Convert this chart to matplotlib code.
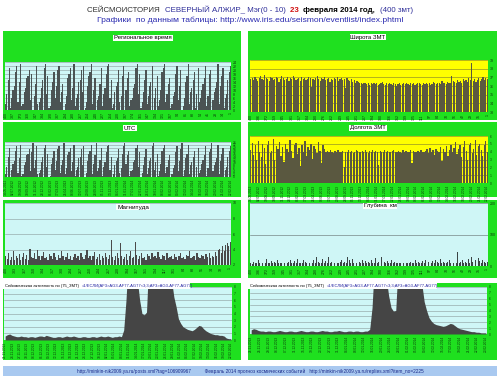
import matplotlib
matplotlib.use('Agg')
import matplotlib.pyplot as plt
import numpy as np
from matplotlib.patches import Rectangle

plt.rcParams['font.family'] = ['Liberation Sans', 'DejaVu Sans']

# ---------------- data ----------------
reg_hours = [3,8,15,21, 1,6,10,12,19,22, 4,14,23, 2,3,9,11,16,17,20, 5,18, 0,7,13,22,
             3,4,6,11,15,21,23, 8,17, 1,2,10,14,19, 6,12,20,22, 4,9,13, 0,3,7,16,18,21,
             5,11,23, 2,6,8,14,15,20, 9,22, 1,4,12,17,19,23, 3,10,16, 0,5,7,13,21,
             2,8,11,18,22,23, 6,15, 1,3,9,12,14,20, 4,7,17,22, 0,10,16,19,
             2,5,6,11,13,21,23, 8,18, 1,4,9,15,20, 3,7,12,14,22, 0,6,11,17,
             2,5,10,19,21,23, 4,8,13,16, 1,3,7,9,18,22, 5,12,20, 0,2,6,14,17,23,
             3,9,11,15,19, 1,8,21, 4,6,10,13,16,22, 2,7,18,20, 0,5,9,11,14,23,
             3,12,17,21, 1,6,8,15,19,22]

utc_hours = [2,7,14,20, 0,5,9,11,18,21, 3,13,22, 1,2,8,10,15,16,19, 4,17, 23,6,12,21,
             2,3,5,10,14,20,22, 7,16, 0,1,9,13,18, 5,11,19,21, 3,8,12, 23,2,6,15,17,20,
             4,10,22, 1,5,7,13,14,19, 8,21, 0,3,11,16,18,22, 2,9,15, 23,4,6,12,20,
             1,7,10,17,21,22, 5,14, 0,2,8,11,13,19, 3,6,16,21, 23,9,15,18,
             1,4,5,10,12,20,22, 7,17, 0,3,8,14,19, 2,6,11,13,21, 23,5,10,16,
             1,4,9,18,20,22, 3,7,12,15, 0,2,6,8,17,21, 4,11,19, 23,1,5,13,16,22,
             2,8,10,14,18, 0,7,20, 3,5,9,12,15,21, 1,6,17,19, 23,4,8,10,13,22,
             2,11,16,20, 0,5,7,14,18,21]

magnitude = [3.2,2.8,3.5,2.6,3.0,3.8,2.7,3.1,2.9,3.4,2.6,3.0,3.6,2.8,3.3,2.7,4.1,3.0,2.9,3.5,
             2.8,3.9,3.2,2.6,3.1,3.7,2.9,3.0,2.7,3.4,3.1,2.8,3.6,3.0,2.6,3.3,2.9,3.8,3.1,2.7,
             3.0,3.5,2.8,3.2,2.6,3.0,3.4,2.9,3.1,2.7,3.6,3.0,2.8,3.3,3.9,2.9,3.1,2.6,3.2,3.7,
             2.8,3.0,3.4,2.7,3.1,2.9,3.5,3.0,2.8,3.3,5.2,3.0,2.7,3.1,3.6,2.9,4.8,3.2,2.8,3.0,
             3.4,2.7,3.1,3.8,2.9,3.0,5.0,3.3,2.8,3.1,3.5,2.9,3.0,2.7,3.4,3.1,2.8,3.6,3.0,3.2,
             2.9,3.7,3.0,2.8,3.3,3.1,2.7,3.5,2.9,3.0,3.2,2.8,3.4,3.0,2.6,3.1,3.6,2.9,3.0,2.8,
             3.3,3.1,3.8,2.9,3.0,3.2,2.7,3.5,3.0,2.9,3.3,3.1,2.8,3.4,3.0,3.6,2.9,3.1,3.0,3.7,
             3.2,3.9,4.1,3.6,4.4,3.8,4.6,4.9,4.5,5.0]

latitude = [36.8,36.9,36.7,37.0,36.8,36.6,36.9,37.1,36.8,36.7,37.3,36.9,36.8,36.6,37.0,36.9,
            36.7,36.8,37.0,36.9,36.5,36.8,37.1,36.9,36.7,36.8,37.0,36.6,36.9,36.8,37.2,36.9,
            36.7,36.8,36.9,36.6,37.0,36.8,36.9,36.7,36.8,37.0,36.9,35.9,36.8,36.7,36.9,37.1,
            36.8,36.6,36.9,36.8,37.0,36.7,36.8,36.9,36.5,36.8,36.7,36.9,36.8,37.0,36.6,36.8,
            36.9,36.7,36.8,35.8,36.9,36.7,36.6,36.8,36.5,36.7,36.4,36.6,36.5,36.3,36.4,36.2,
            36.3,36.4,36.2,36.3,36.1,36.3,36.2,36.4,36.2,36.3,36.1,36.2,36.3,36.5,36.2,36.1,
            36.3,36.2,36.4,36.2,36.1,36.3,36.2,36.0,36.2,36.3,36.1,36.2,36.3,36.2,36.4,36.2,
            36.1,36.3,36.2,36.3,36.1,36.2,36.4,36.3,36.2,36.1,36.3,36.2,36.4,36.2,36.3,36.1,
            36.2,36.5,36.3,36.2,36.4,36.3,36.2,36.6,36.3,36.4,36.2,36.5,36.3,36.4,37.2,36.6,
            36.5,36.3,36.7,36.5,36.6,36.4,36.8,36.6,36.7,36.5,36.9,36.7,38.6,36.6,36.8,36.5,
            36.7,36.9,36.6,36.8,37.0,36.7,36.9,36.8]

longitude = [4.2,5.1,3.6,4.8,2.9,5.4,4.0,3.3,5.0,4.5,2.4,4.9,5.3,3.8,4.1,5.6,3.0,4.7,4.3,5.2,
             3.5,4.6,2.7,5.0,4.4,3.9,5.5,4.1,3.2,4.8,5.1,3.7,4.5,2.2,4.9,4.0,5.3,3.4,4.6,4.2,
             5.0,3.1,4.7,4.4,3.8,5.2,4.1,2.6,4.8,4.3,4.0,4.1,3.9,4.2,4.0,3.8,4.1,4.0,4.2,3.9,
             4.0,4.1,2.0,4.0,3.9,4.2,4.0,4.1,3.8,4.0,4.2,4.1,3.9,4.0,4.1,3.9,4.2,4.0,3.8,4.1,
             4.0,4.2,3.9,4.1,4.0,2.3,4.1,3.9,4.0,4.2,4.0,4.1,3.9,4.0,4.1,4.2,3.9,4.0,4.1,4.0,
             3.8,4.2,4.0,4.1,3.9,4.0,4.2,2.5,4.1,4.0,3.9,4.1,4.0,4.2,4.0,3.9,4.1,4.3,3.8,4.5,
             4.0,4.2,3.6,4.4,4.1,3.9,4.6,2.8,4.3,4.0,4.7,3.5,4.2,4.8,3.9,4.5,5.2,3.7,4.4,4.9,
             3.3,4.6,5.4,4.1,3.0,4.8,5.1,3.8,4.4,5.5,3.6,4.7,5.0,4.2,3.4,4.9,5.3,4.0]

depth = [10,5,12,8,10,18,10,6,10,14,10,22,10,8,16,10,12,10,20,10,9,10,14,10,25,10,12,18,10,10,
         15,10,22,10,8,10,18,12,10,124,10,14,10,20,10,28,12,10,10,22,10,16,10,30,10,12,18,10,25,10,
         10,14,20,10,12,10,28,18,10,22,10,33,10,25,12,10,20,10,15,10,12,10,18,10,10,24,10,14,10,30,
         10,12,10,16,10,10,20,10,12,10,8,10,10,15,10,12,10,8,10,14,10,10,18,10,12,10,10,16,10,20,
         10,12,10,10,15,10,18,12,10,22,10,14,10,10,12,18,10,25,10,16,10,44,10,12,20,10,14,10,22,10,
         28,12,10,18,10,25,16,10,20,12,10,14]

activity_left = [0.6,0.8,0.9,0.7,0.6,0.5,0.5,0.6,0.5,0.5,0.4,0.5,0.5,0.4,0.5,0.6,0.6,0.5,0.7,0.6,
                 0.5,0.4,0.4,0.5,0.5,0.4,0.5,0.6,0.5,0.5,0.6,0.5,0.4,0.4,0.5,0.5,0.4,0.4,0.5,0.5,
                 0.4,0.5,0.6,0.5,0.5,0.6,0.5,0.4,0.5,0.5,0.6,0.5,1.5,6.0,12,12,12,12,9.0,6.0,
                 4.0,3.8,4.2,12,12,12,12,12,12,12,12,12,12,9.0,6.5,5.0,3.2,2.5,2.0,1.8,
                 1.6,1.5,1.4,1.6,1.9,2.2,2.1,1.7,1.4,1.2,1.0,0.9,0.8,0.8,0.7,0.7,0.6,0.3,0.2,0.2]

activity_right = [0.7,0.9,0.8,0.6,0.5,0.5,0.4,0.5,0.5,0.4,0.4,0.5,0.6,0.5,0.4,0.4,0.5,0.5,0.4,0.4,
                  0.5,0.6,0.5,0.4,0.4,0.5,0.5,0.4,0.4,0.5,0.6,0.5,0.5,0.4,0.4,0.5,0.5,0.6,0.5,0.4,
                  0.4,0.5,0.5,0.4,0.5,0.5,0.4,0.4,0.5,0.5,0.8,4.5,12,12,12,12,12,9.5,6.5,4.5,
                  3.9,4.0,12,12,12,12,12,12,12,12,12,12,8.5,5.5,4.0,2.8,2.2,1.8,1.6,1.5,
                  1.4,1.3,1.4,1.6,1.8,1.7,1.4,1.1,0.9,0.8,0.7,0.6,0.5,0.4,0.4,0.3,0.3,0.2,0.2,0.2]

utc_dates = ["14.05.2012","02.07.2012","19.08.2012","30.09.2012","11.11.2012","28.12.2012",
             "06.02.2013","17.03.2013","25.04.2013","03.06.2013","12.07.2013","20.08.2013",
             "28.09.2013","05.11.2013","13.12.2013","04.01.2014","11.01.2014","17.01.2014",
             "22.01.2014","26.01.2014","30.01.2014","03.02.2014","06.02.2014","09.02.2014",
             "12.02.2014","14.02.2014","16.02.2014","18.02.2014","20.02.2014","21.02.2014",
             "22.02.2014"]
act_dates_left = ["21.11.2013","24.11.2013","27.11.2013","30.11.2013","03.12.2013","06.12.2013",
                  "09.12.2013","12.12.2013","15.12.2013","18.12.2013","21.12.2013","24.12.2013",
                  "27.12.2013","30.12.2013","02.01.2014","05.01.2014","08.01.2014","11.01.2014",
                  "14.01.2014","17.01.2014","20.01.2014","23.01.2014","26.01.2014","29.01.2014",
                  "01.02.2014","04.02.2014","07.02.2014","10.02.2014","13.02.2014","16.02.2014",
                  "19.02.2014","22.02.2014"]
act_dates_right = ["21.11.2013","25.11.2013","29.11.2013","03.12.2013","07.12.2013","11.12.2013",
                   "15.12.2013","19.12.2013","23.12.2013","27.12.2013","31.12.2013","04.01.2014",
                   "08.01.2014","12.01.2014","16.01.2014","20.01.2014","24.01.2014","28.01.2014",
                   "01.02.2014","05.02.2014","09.02.2014","12.02.2014","15.02.2014","17.02.2014",
                   "19.02.2014","21.02.2014","22.02.2014","23.02.2014"]

# ---------------- figure ----------------
W, H = 500, 378
fig = plt.figure(figsize=(5, 3.78), dpi=100)
fig.patch.set_facecolor('white')

GREEN = '#1fe01f'
CYAN = '#cff6f6'
YELLOW = '#ffff00'
TXT = '#0a3a0a'


def rect(x0, y0, x1, y1):
    return [x0 / W, 1 - y1 / H, (x1 - x0) / W, (y1 - y0) / H]


def bg(x0, y0, x1, y1, color=GREEN, z=0):
    fig.add_artist(Rectangle((x0 / W, 1 - y1 / H), (x1 - x0) / W, (y1 - y0) / H,
                             transform=fig.transFigure, facecolor=color,
                             edgecolor='none', zorder=z))


def label(x, y, s, fs=4.3):
    fig.text(x / W, 1 - y / H, s, ha='center', va='center', fontsize=fs, color='black',
             bbox=dict(facecolor='white', edgecolor='none', pad=0.6), zorder=5)


def make_ax(r, face, ylim, yticks, n, xlabels, grid_color, fs=2.6):
    ax = fig.add_axes(rect(*r))
    ax.set_facecolor(face)
    ax.set_ylim(*ylim)
    ax.set_yticks(yticks)
    ax.set_yticklabels([str(v) for v in yticks])
    ax.yaxis.tick_right()
    ax.tick_params(axis='y', labelsize=fs, length=0, pad=1.5, labelcolor=TXT)
    ax.set_xlim(-0.5, n - 0.5)
    pos = np.linspace(0, n - 1, len(xlabels))
    ax.set_xticks(pos)
    ax.set_xticklabels(xlabels, rotation=90, fontsize=fs, color=TXT)
    ax.tick_params(axis='x', length=0, pad=1.5)
    for s in ax.spines.values():
        s.set_visible(False)
    ax.grid(axis='y', color=grid_color, lw=0.4)
    ax.set_axisbelow(True)
    return ax


def num_labels(k):
    return [str(int(round(v))) for v in np.linspace(400, 1, k)]


# ---- Left column ----
# Regional time
bg(3, 31, 241, 120)
n = len(reg_hours)
ax = make_ax((5, 62, 231, 110), CYAN, (0, 24), list(range(0, 25, 2)), n, num_labels(31), '#8a9a9a')
ax.bar(np.arange(n), reg_hours, width=0.95, color='#4b5353', linewidth=0)
label(143, 38, 'Региональное время')

# UTC
bg(3, 122, 241, 197)
n = len(utc_hours)
ax = make_ax((5, 142, 231, 177), CYAN, (0, 24), list(range(0, 25, 2)), n, utc_dates, '#8a9a9a', fs=2.3)
ax.bar(np.arange(n), utc_hours, width=0.95, color='#4b5353', linewidth=0)
label(130, 128, 'UTC')

# Magnitude
bg(3, 200, 241, 278)
n = len(magnitude)
ax = make_ax((5, 203, 231, 265), CYAN, (2, 10), [2, 4, 6, 8, 10], n, num_labels(25), '#8a9a9a')
ax.bar(np.arange(n), magnitude, width=0.85, color='#4a4a4a', linewidth=0)
label(133, 207, 'Магнитуда', fs=4.6)

# Activity left
bg(3, 283, 241, 360)
n = len(activity_left)
ax = make_ax((4, 287, 232, 340), CYAN, (0, 8), list(range(0, 9)), n, act_dates_left, '#8a9a9a', fs=2.3)
ax.fill_between(np.arange(n), activity_left, color='#454545', lw=0)
bg(3, 283, 190, 289, 'white', z=4)
fig.text(5 / W, 1 - 286 / H, 'Сейсмическая активность по (75_ЗМТ)  ', fontsize=3.0,
         va='center', ha='left', color='black', zorder=5)
fig.text(82 / W, 1 - 286 / H, '=1/ЕСЛИ(AF3>AG3-AF77-AG77<3;3;AF3>AG3-AF77-AG77)', fontsize=3.0,
         va='center', ha='left', color='#2020a0', zorder=5)

# ---- Right column ----
# Latitude
bg(248, 31, 497, 120)
n = len(latitude)
ax = make_ax((250, 60, 488, 112), YELLOW, (33, 39), list(range(33, 40)), n, num_labels(30), '#7a7a30')
ax.bar(np.arange(n), latitude, width=0.85, color='#5a5840', linewidth=0)
label(368, 37, 'Широта ЗМТ')

# Longitude
bg(248, 122, 497, 197)
n = len(longitude)
ax = make_ax((250, 136, 488, 183), YELLOW, (0, 6), list(range(0, 7)), n, utc_dates, '#7a7a30', fs=2.3)
ax.bar(np.arange(n), longitude, width=0.85, color='#5a5840', linewidth=0)
label(368, 128, 'Долгота ЗМТ')

# Depth
bg(248, 200, 497, 278)
n = len(depth)
ax = make_ax((250, 203, 488, 266), CYAN, (0, 200), [0, 100, 200], n, num_labels(30), '#606a6a')
ax.bar(np.arange(n), depth, width=0.6, color='#3a4444', linewidth=0)
label(380, 206, 'Глубина  км')

# Activity right
bg(248, 283, 497, 360)
n = len(activity_right)
ax = make_ax((250, 287, 487, 334), CYAN, (0, 8), list(range(0, 9)), n, act_dates_right, '#8a9a9a', fs=2.3)
ax.fill_between(np.arange(n), activity_right, color='#454545', lw=0)
bg(248, 283, 437, 289, 'white', z=4)
fig.text(250 / W, 1 - 286 / H, 'Сейсмическая активность по (75_ЗМТ)  ', fontsize=3.0,
         va='center', ha='left', color='black', zorder=5)
fig.text(327 / W, 1 - 286 / H, '=1/ЕСЛИ(AF3>AG3-AF77-AG77<3;3;AF3>AG3-AF77-AG77)', fontsize=3.0,
         va='center', ha='left', color='#2020a0', zorder=5)

# ---- Footer ----
bg(3, 366, 497, 376, '#a9c9f0')
fig.text(0.5, 1 - 371 / H,
         'http://minkin-nik2009.ya.ru/posts.xml?tag=106909967          '
         'Февраль 2014 прогноз космических событий   http://minkin-nik2009.ya.ru/replies.xml?item_no=2225',
         fontsize=3.4, ha='center', va='center', color='#1a2a8a')

# ---- Title ----
renderer = fig.canvas.get_renderer()


def colored_line(y, parts, fs):
    texts = []
    for s, c, w in parts:
        texts.append(fig.text(0, 1 - y / H, s, color=c, fontsize=fs, fontweight=w,
                              va='center', ha='left'))
    widths = [t.get_window_extent(renderer).width for t in texts]
    x = (W - sum(widths)) / 2
    for t, wd in zip(texts, widths):
        t.set_x(x / W)
        x += wd


colored_line(10, [('СЕЙСМОИСТОРИЯ  ', '#303030', 'normal'),
                  ('СЕВЕРНЫЙ АЛЖИР_ Мэг(0 - 10)  ', '#30309a', 'normal'),
                  ('23  ', '#d01010', 'bold'),
                  ('февраля 2014 год,  ', 'black', 'bold'),
                  ('(400 змт)', '#30309a', 'normal')], 5.7)
colored_line(20, [('Графики  по данным таблицы: http://www.iris.edu/seismon/eventlist/index.phtml',
                   '#2a2ab0', 'normal')], 6.1)

fig.savefig('out.png', dpi=100, facecolor='white')
